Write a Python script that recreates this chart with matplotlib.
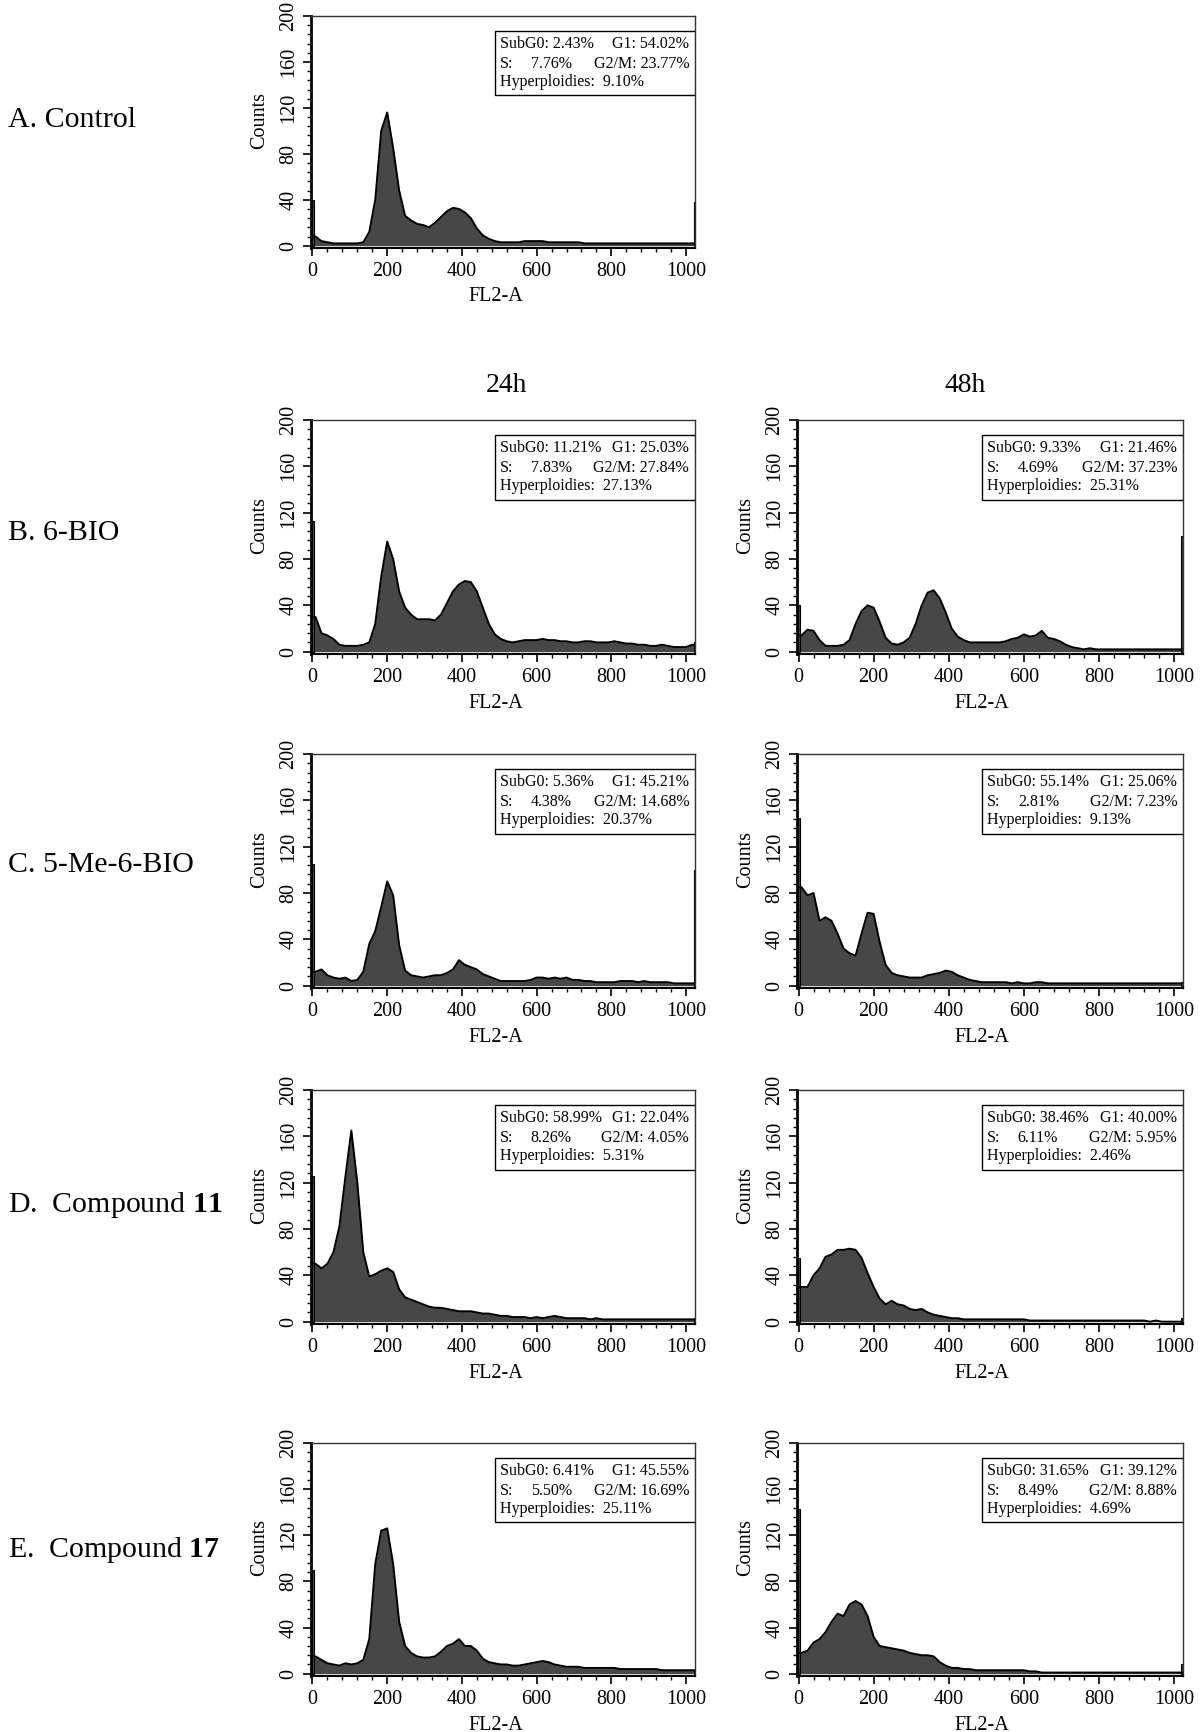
import matplotlib
matplotlib.use('Agg')
import matplotlib.pyplot as plt
import numpy as np
from matplotlib.patches import Rectangle
from matplotlib.ticker import MultipleLocator

plt.rcParams['font.family'] = ['Liberation Serif', 'DejaVu Serif']
plt.rcParams['mathtext.fontset'] = 'custom'
plt.rcParams['mathtext.rm'] = 'Liberation Serif'
plt.rcParams['mathtext.bf'] = 'Liberation Serif:bold'

# FL2-A channel bins (16 channels wide, 0..1024)
edges = np.arange(0, 1025, 16)
centers = edges[:-1] + 8

# Counts per bin
control = [8, 4, 3, 2, 2, 2, 2, 2, 3, 12, 40, 100, 116, 85, 48, 26,
           22, 19, 18, 16, 20, 25, 30, 33, 32, 29, 24, 15, 9, 6, 4, 3,
           3, 3, 3, 4, 4, 4, 4, 3, 3, 3, 3, 3, 3, 2, 2, 2,
           2, 2, 2, 2, 2, 2, 2, 2, 2, 2, 2, 2, 2, 2, 2, 2]
bio_24 = [30, 16, 14, 11, 6, 5, 5, 5, 6, 8, 24, 65, 95, 80, 52, 38,
          32, 28, 28, 28, 27, 32, 42, 52, 58, 61, 60, 52, 38, 24, 15, 11,
          9, 8, 9, 10, 10, 10, 11, 10, 10, 9, 9, 8, 8, 9, 9, 8,
          8, 8, 9, 8, 7, 7, 6, 6, 5, 5, 6, 5, 4, 4, 4, 6]
bio_48 = [14, 19, 18, 10, 5, 5, 5, 6, 10, 24, 35, 40, 38, 26, 12, 7,
          6, 8, 12, 24, 40, 51, 53, 46, 34, 20, 13, 10, 8, 8, 8, 8,
          8, 8, 9, 11, 12, 15, 13, 14, 18, 12, 11, 9, 6, 4, 3, 2,
          3, 2, 2, 2, 2, 2, 2, 2, 2, 2, 2, 2, 2, 2, 2, 2]
mebio_24 = [12, 14, 9, 7, 6, 7, 4, 5, 12, 36, 47, 68, 90, 78, 35, 13,
            9, 8, 7, 8, 9, 9, 11, 14, 22, 18, 16, 14, 10, 8, 6, 4,
            4, 4, 4, 4, 5, 7, 7, 6, 7, 6, 7, 5, 5, 4, 4, 3,
            3, 3, 3, 4, 4, 4, 3, 4, 3, 3, 3, 3, 2, 2, 2, 2]
mebio_48 = [85, 78, 80, 56, 59, 56, 45, 32, 28, 26, 45, 63, 62, 38, 18, 11,
            9, 8, 7, 7, 7, 9, 10, 11, 13, 12, 9, 7, 5, 4, 3, 3,
            3, 3, 3, 2, 3, 2, 2, 3, 3, 2, 2, 2, 2, 2, 2, 2,
            2, 2, 2, 2, 2, 2, 2, 2, 2, 2, 2, 2, 2, 2, 2, 2]
c11_24 = [50, 46, 50, 60, 82, 125, 165, 120, 60, 39, 41, 44, 46, 43, 28, 21,
          19, 17, 15, 13, 12, 12, 11, 10, 9, 9, 9, 8, 7, 7, 6, 5,
          5, 4, 4, 4, 3, 4, 3, 4, 5, 4, 3, 3, 3, 3, 2, 3,
          2, 2, 2, 2, 2, 2, 2, 2, 2, 2, 2, 2, 2, 2, 2, 2]
c11_48 = [30, 30, 40, 46, 56, 58, 62, 62, 63, 62, 55, 42, 30, 20, 15, 18,
          15, 14, 11, 10, 11, 8, 6, 5, 4, 3, 3, 2, 2, 2, 2, 2,
          2, 2, 2, 2, 2, 2, 1, 1, 1, 1, 1, 1, 1, 1, 1, 1,
          1, 1, 1, 1, 1, 1, 1, 1, 1, 1, 0, 1, 0, 0, 0, 0]
c17_24 = [15, 12, 9, 8, 7, 9, 8, 9, 12, 30, 95, 124, 126, 95, 45, 24,
          18, 15, 14, 14, 15, 19, 24, 26, 30, 24, 24, 20, 13, 10, 9, 8,
          8, 7, 7, 8, 9, 10, 11, 10, 8, 7, 6, 6, 6, 5, 5, 5,
          5, 5, 5, 4, 4, 4, 4, 4, 4, 4, 3, 3, 3, 3, 3, 3]
c17_48 = [18, 20, 27, 30, 36, 45, 52, 50, 60, 63, 60, 50, 32, 24, 23, 22,
          21, 20, 18, 17, 16, 16, 15, 10, 7, 5, 5, 4, 4, 3, 3, 3,
          3, 3, 3, 3, 3, 3, 2, 2, 1, 1, 1, 1, 1, 1, 1, 1,
          1, 1, 1, 1, 1, 1, 1, 1, 1, 1, 1, 1, 1, 1, 1, 1]

# single-channel spikes at the first and last channel
first_channel = [40, 113, 40, 105, 145, 126, 55, 90, 143]
last_channel = [38, 8, 100, 100, 3, 3, 3, 3, 8]

# cell cycle percentages
subg0 = ['2.43', '11.21', '9.33', '5.36', '55.14', '58.99', '38.46', '6.41', '31.65']
g1 = ['54.02', '25.03', '21.46', '45.21', '25.06', '22.04', '40.00', '45.55', '39.12']
s_phase = ['7.76', '7.83', '4.69', '4.38', '2.81', '8.26', '6.11', '5.50', '8.49']
g2m = ['23.77', '27.84', '37.23', '14.68', '7.23', '4.05', '5.95', '16.69', '8.88']
hyper = ['9.10', '27.13', '25.31', '20.37', '9.13', '5.31', '2.46', '25.11', '4.69']

histograms = [control, bio_24, bio_48, mebio_24, mebio_48, c11_24, c11_48, c17_24, c17_48]

row_labels = ['A. Control', 'B. 6-BIO', 'C. 5-Me-6-BIO',
              r'D.  Compound $\mathbf{11}$', r'E.  Compound $\mathbf{17}$']

W, H = 1200, 1732
fig = plt.figure(figsize=(W / 100, H / 100), dpi=100)

# axes boxes in pixels (left, width) per column, (top, bottom) per row
cols = [(311, 384), (797, 386)]
rows = [(16, 248), (420, 654), (754, 988), (1090, 1324), (1443, 1676)]
slots = [(0, 0), (1, 0), (1, 1), (2, 0), (2, 1), (3, 0), (3, 1), (4, 0), (4, 1)]

fill_col = '#474747'

for k, (r, c) in enumerate(slots):
    x0, w = cols[c]
    top, bot = rows[r]
    ax = fig.add_axes([x0 / W, 1 - bot / H, w / W, (bot - top) / H])

    counts = np.asarray(histograms[k])
    xs = np.concatenate([[0], centers, [1024]])
    ys = np.concatenate([[counts[0]], counts, [counts[-1]]])
    ax.fill_between(xs, 0, ys, color=fill_col, lw=0)
    ax.plot(xs, ys, color='black', lw=1.4)
    ax.bar([-1, 1020], [first_channel[k], last_channel[k]], width=4, align='edge',
           color=fill_col, edgecolor='black', lw=0.8)

    ax.set_xlim(-4, 1024)
    ax.set_ylim(-2, 200)
    ax.xaxis.set_major_locator(MultipleLocator(200))
    ax.xaxis.set_minor_locator(MultipleLocator(40))
    ax.yaxis.set_major_locator(MultipleLocator(40))
    ax.yaxis.set_minor_locator(MultipleLocator(8))
    ax.tick_params(which='major', direction='out', length=6, width=1.2, labelsize=14.5)
    ax.tick_params(which='minor', direction='out', length=3, width=1)
    ax.tick_params(axis='x', pad=4)
    ax.tick_params(axis='y', pad=3)
    for lab in ax.get_yticklabels():
        lab.set_rotation(90)
        lab.set_va('center')

    ax.spines['left'].set_linewidth(2)
    ax.spines['bottom'].set_linewidth(1.5)
    ax.spines['top'].set_linewidth(1)
    ax.spines['right'].set_linewidth(1)
    ax.spines['top'].set_color('#333333')
    ax.spines['right'].set_color('#333333')

    ax.set_ylabel('Counts', fontsize=14.5)
    ax.yaxis.set_label_coords(-0.108, 0.55)
    ax.set_xlabel('FL2-A', fontsize=14.5)
    ax.xaxis.set_label_coords(0.48, -0.17)

    # statistics box
    bx, by0, by1 = 0.48, 0.66, 0.935
    ax.add_patch(Rectangle((bx, by0), 1 - bx, by1 - by0, transform=ax.transAxes,
                           facecolor='white', edgecolor='black', lw=1, zorder=5))
    fs = 11.5
    ly = [by1 - 0.056, by1 - 0.141, by1 - 0.218]
    tkw = dict(transform=ax.transAxes, fontsize=fs, va='center', zorder=6)
    ax.text(bx + 0.012, ly[0], f'SubG0: {subg0[k]}%', ha='left', **tkw)
    ax.text(0.985, ly[0], f'G1: {g1[k]}%', ha='right', **tkw)
    ax.text(bx + 0.012, ly[1], 'S:', ha='left', **tkw)
    ax.text(bx + 0.092, ly[1], f'{s_phase[k]}%', ha='left', **tkw)
    ax.text(0.985, ly[1], f'G2/M: {g2m[k]}%', ha='right', **tkw)
    ax.text(bx + 0.012, ly[2], f'Hyperploidies:  {hyper[k]}%', ha='left', **tkw)

# row labels
label_y = [120, 533, 865, 1205, 1550]
for lab, yy in zip(row_labels, label_y):
    fig.text(8 / W, 1 - yy / H, lab, fontsize=21.5, ha='left', va='center')

# time headers
fig.text(506 / W, 1 - 385 / H, '24h', fontsize=20, ha='center', va='center')
fig.text(965 / W, 1 - 385 / H, '48h', fontsize=20, ha='center', va='center')

fig.savefig('out.png', dpi=100, facecolor='white')
